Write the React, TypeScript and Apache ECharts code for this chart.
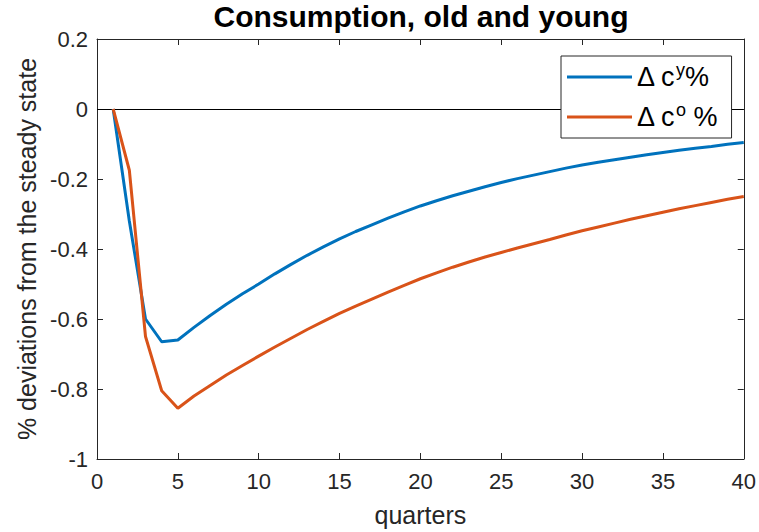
import React, { useEffect, useRef } from "react";
import * as echarts from "echarts";

const quarters = [
  1, 2, 3, 4, 5, 6, 7, 8, 9, 10, 11, 12, 13, 14, 15, 16, 17, 18, 19, 20,
  21, 22, 23, 24, 25, 26, 27, 28, 29, 30, 31, 32, 33, 34, 35, 36, 37, 38, 39, 40,
];

const youngValues = [
  0, -0.32, -0.6, -0.665, -0.66, -0.624, -0.59, -0.558, -0.528, -0.5,
  -0.471, -0.444, -0.418, -0.394, -0.371, -0.35, -0.331, -0.312, -0.294, -0.277,
  -0.262, -0.248, -0.235, -0.222, -0.21, -0.199, -0.189, -0.179, -0.169, -0.16,
  -0.152, -0.145, -0.138, -0.131, -0.124, -0.118, -0.112, -0.107, -0.101, -0.096,
];

const oldValues = [
  0, -0.175, -0.65, -0.805, -0.855, -0.82, -0.79, -0.76, -0.733, -0.706,
  -0.68, -0.655, -0.63, -0.607, -0.584, -0.563, -0.543, -0.523, -0.504, -0.485,
  -0.468, -0.452, -0.437, -0.423, -0.41, -0.397, -0.385, -0.373, -0.36, -0.348,
  -0.337, -0.326, -0.315, -0.305, -0.295, -0.285, -0.276, -0.267, -0.258, -0.25,
];

const seriesNames = ["young", "old"];
const titleText = "Consumption, old and young";
const xLabel = "quarters";
const yLabel = "% deviations from the steady state";

const FONT = "'Liberation Sans', Arial, Helvetica, sans-serif";
const AXIS_COLOR = "#262626";

export default function App() {
  const ref = useRef<HTMLDivElement>(null);

  useEffect(() => {
    if (!ref.current) return;
    const chart = echarts.init(ref.current, undefined, { renderer: "svg" });

    const fmtY = (v: number) => {
      const r = Math.round(v * 10) / 10;
      return r === 0 ? "0" : String(r);
    };

    const commonAxisLine = { show: true, onZero: false, lineStyle: { color: AXIS_COLOR, width: 1 } };
    const commonTick = { show: true, inside: true, length: 6, lineStyle: { color: AXIS_COLOR, width: 1 } };

    const option: any = {
      animation: false,
      backgroundColor: "#fff",
      textStyle: { fontFamily: FONT },
      grid: { left: 97, top: 39, right: 11, bottom: 69, containLabel: false },
      graphic: [
        {
          type: "text",
          x: 421,
          y: 1,
          style: {
            text: titleText,
            fontFamily: FONT,
            fontWeight: "bold",
            fontSize: 30,
            fill: "#000",
            textAlign: "center",
            textVerticalAlign: "top",
          },
        },
      ],
      legend: {
        data: seriesNames,
        orient: "vertical",
        left: 561,
        top: 56,
        padding: [5, 14, 5, 6],
        itemGap: 8,
        itemWidth: 65,
        itemHeight: 3,
        itemTextGap: 6,
        icon: "rect",
        borderColor: AXIS_COLOR,
        borderWidth: 1,
        backgroundColor: "#fff",
        formatter: (name: string) =>
          name === "young" ? "{a|Δ c}{s|y}{a|%}" : "{a|Δ c}{s|o}{a| %}",
        textStyle: {
          fontFamily: FONT,
          fontSize: 27,
          color: "#000",
          rich: {
            a: { fontFamily: FONT, fontSize: 27, lineHeight: 30, color: "#000" },
            s: { fontFamily: FONT, fontSize: 18, lineHeight: 30, color: "#000", padding: [0, 0, 14, 0] },
          },
        },
      },
      xAxis: [
        {
          type: "value",
          min: 0,
          max: 40,
          interval: 5,
          position: "bottom",
          name: xLabel,
          nameLocation: "middle",
          nameGap: 43,
          nameTextStyle: { fontFamily: FONT, fontSize: 25, color: AXIS_COLOR },
          axisLine: commonAxisLine,
          axisTick: commonTick,
          axisLabel: { fontFamily: FONT, fontSize: 22, color: AXIS_COLOR, margin: 11 },
          splitLine: { show: false },
        },
        {
          type: "value",
          min: 0,
          max: 40,
          interval: 5,
          position: "top",
          axisLine: commonAxisLine,
          axisTick: commonTick,
          axisLabel: { show: false },
          splitLine: { show: false },
        },
      ],
      yAxis: [
        {
          type: "value",
          min: -1,
          max: 0.2,
          interval: 0.2,
          position: "left",
          name: yLabel,
          nameLocation: "middle",
          nameGap: 55,
          nameRotate: 90,
          nameTextStyle: { fontFamily: FONT, fontSize: 25, color: AXIS_COLOR },
          axisLine: commonAxisLine,
          axisTick: commonTick,
          axisLabel: { fontFamily: FONT, fontSize: 22, color: AXIS_COLOR, margin: 9, formatter: fmtY },
          splitLine: { show: false },
        },
        {
          type: "value",
          min: -1,
          max: 0.2,
          interval: 0.2,
          position: "right",
          axisLine: commonAxisLine,
          axisTick: commonTick,
          axisLabel: { show: false },
          splitLine: { show: false },
        },
      ],
      series: [
        {
          name: "young",
          type: "line",
          xAxisIndex: 0,
          yAxisIndex: 0,
          data: quarters.map((q, i) => [q, youngValues[i]]),
          showSymbol: false,
          symbol: "none",
          lineStyle: { color: "#0072BD", width: 3 },
          itemStyle: { color: "#0072BD" },
          z: 3,
          markLine: {
            silent: true,
            symbol: ["none", "none"],
            label: { show: false },
            lineStyle: { color: "#000", width: 1, type: "solid" },
            data: [{ yAxis: 0 }],
            z: 1,
          },
        },
        {
          name: "old",
          type: "line",
          xAxisIndex: 0,
          yAxisIndex: 0,
          data: quarters.map((q, i) => [q, oldValues[i]]),
          showSymbol: false,
          symbol: "none",
          lineStyle: { color: "#D95319", width: 3 },
          itemStyle: { color: "#D95319" },
          z: 3,
        },
      ],
    };

    chart.setOption(option);
    return () => chart.dispose();
  }, []);

  return (
    <div
      ref={ref}
      style={{ position: "fixed", left: 0, top: 0, width: 759, height: 532 }}
    />
  );
}
